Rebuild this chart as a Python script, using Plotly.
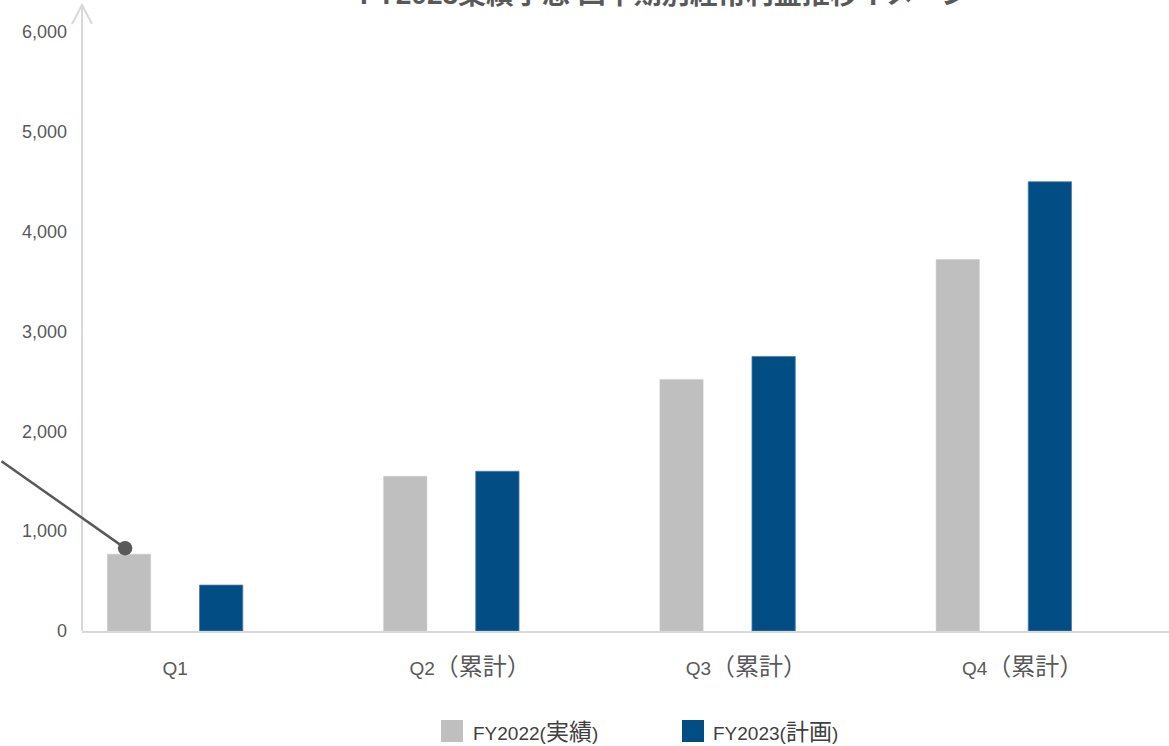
import plotly.graph_objects as go

categories = ["Q1", "Q2（累計）", "Q3（累計）", "Q4（累計）"]
fy2022 = [770, 1550, 2520, 3720]
fy2023 = [460, 1600, 2750, 4500]
series_names = ["FY2022(実績)", "FY2023(計画)"]
series_colors = ["#BFBFBF", "#024D84"]
y_ticks = [0, 1000, 2000, 3000, 4000, 5000, 6000]
y_ticklabels = ["0", "1,000", "2,000", "3,000", "4,000", "5,000", "6,000"]
callout_x = -0.181
callout_y = 830
title_text = "FY2023業績予想 四半期別経常利益推移イメージ"

FONT = "Liberation Sans, Arial, Noto Sans CJK JP, sans-serif"
GREY_TXT = "#595959"


def has_cjk(s):
    return any(ord(ch) > 0x2E80 for ch in s)


def style_cjk(s, size):
    # enlarge the CJK part of a label (as in the reference rendering)
    out = ""
    for ch in s:
        if ord(ch) > 0x2E80:
            out += f"<span style='font-size:{size}px'>{ch}</span>"
        else:
            out += ch
    return out


x_pos = list(range(len(categories)))
# labels with full-width brackets sit slightly right of the category centre in the reference
label_pos = [x + (0.068 if has_cjk(c) else 0.0) for x, c in zip(x_pos, categories)]

fig = go.Figure()
fig.add_trace(go.Bar(x=x_pos, y=fy2022, name=series_names[0], showlegend=False,
                     marker=dict(color=series_colors[0], line=dict(color="#C8C8C8", width=0.5))))
fig.add_trace(go.Bar(x=x_pos, y=fy2023, name=series_names[1], showlegend=False,
                     marker=dict(color=series_colors[1], line=dict(color="#4E7DA8", width=0.8))))

W = 1169
H = 746
ml, mr, mt, mb = 82, 0, 32, 115
pw = W - ml - mr
ph = H - mt - mb


def px_x(px):
    return (px - ml) / pw


def px_y(py):
    return (H - mb - py) / ph


fig.update_layout(
    width=W, height=H,
    margin=dict(l=ml, r=mr, t=mt, b=mb),
    paper_bgcolor="white", plot_bgcolor="white",
    barmode="group", bargap=0.333, bargroupgap=0.53,
    font=dict(family=FONT, color=GREY_TXT, size=16),
    showlegend=False,
    xaxis=dict(range=[-0.337, 3.598], tickvals=label_pos,
               ticktext=[style_cjk(c, 24) for c in categories],
               showgrid=False, zeroline=False, showline=True, linecolor="#D9D9D9", linewidth=2,
               ticks="", tickfont=dict(size=19, color=GREY_TXT), ticklabelstandoff=19),
    yaxis=dict(range=[0, 6000], tickvals=y_ticks, ticktext=y_ticklabels,
               showgrid=False, zeroline=False, showline=False, ticks="",
               tickfont=dict(size=18, color=GREY_TXT), ticklabelstandoff=14),
)

# y axis line extended with open arrowhead
top = px_y(5)
fig.add_shape(type="line", xref="paper", yref="paper", x0=0, x1=0, y0=0, y1=top,
              line=dict(color="#D9D9D9", width=2))
dx = 10 / pw
dy = 19 / ph
fig.add_shape(type="path", xref="paper", yref="paper",
              path=f"M {-dx} {top - dy} L 0 {top} L {dx} {top - dy}",
              line=dict(color="#D9D9D9", width=2))

# callout leader line with dot
fig.add_annotation(x=callout_x, y=callout_y, xref="x", yref="y", text="",
                   showarrow=True, arrowhead=6, arrowsize=1.45, arrowwidth=2.5,
                   arrowcolor="#595959", ax=-132, ay=-88, standoff=0)

# title (partially cut at top)
fig.add_annotation(x=px_x(664), xref="paper", y=px_y(-6), yref="paper",
                   text="<b>" + title_text + "</b>", showarrow=False,
                   font=dict(size=28, color=GREY_TXT), xanchor="center", yanchor="middle")

# legend (square swatches + labels)
leg_sq_x = [441, 682]
leg_txt_x = [471, 711]
for name, col, sx, tx in zip(series_names, series_colors, leg_sq_x, leg_txt_x):
    fig.add_shape(type="rect", xref="paper", yref="paper",
                  x0=px_x(sx), x1=px_x(sx + 22), y0=px_y(742), y1=px_y(720),
                  fillcolor=col, line=dict(width=0))
    fig.add_annotation(x=px_x(tx), xref="paper", y=px_y(732), yref="paper",
                       text=style_cjk(name, 23), showarrow=False, xanchor="left", yanchor="middle",
                       font=dict(size=19, color="#404040"))

fig.write_html("out.html", post_script="document.body.style.margin='0';",
               config={"displayModeBar": False})
